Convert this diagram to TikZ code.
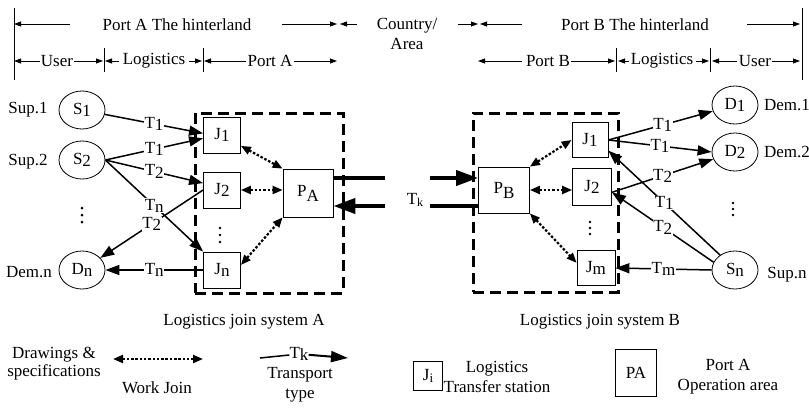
\documentclass[tikz,border=0pt]{standalone}
\usepackage{fontspec}
\setmainfont{Liberation Serif}
\usetikzlibrary{arrows.meta,shapes.geometric}
\newcommand{\lo}[1]{\raisebox{-2.5pt}{#1}}
\newcommand{\lob}[1]{\raisebox{-5pt}{#1}}
\begin{document}
\begin{tikzpicture}[x=1pt,y=-1pt,
  font=\fontsize{17}{21}\selectfont,
  circ/.style={ellipse, draw, line width=0.8pt, minimum width=46pt, minimum height=38pt, inner sep=0pt},
  jbox/.style={draw, line width=0.8pt, minimum width=37pt, minimum height=36pt, inner sep=0pt},
  pbox/.style={draw, line width=0.8pt, minimum width=50pt, minimum height=48pt, inner sep=0pt},
  dashbox/.style={draw, line width=3pt, dash pattern=on 11pt off 6pt, inner sep=0pt},
  conn/.style={line width=1.5pt, -{Triangle[length=14pt,width=10pt]}},
  plain/.style={line width=1.5pt},
  lab/.style={fill=white, inner sep=0.5pt},
  work/.style={line width=2.2pt, dash pattern=on 2.5pt off 1.8pt, {Triangle[length=10pt,width=8pt]}-{Triangle[length=10pt,width=8pt]}},
  heavy/.style={line width=4pt},
  heavyarr/.style={line width=4pt, -{Triangle[length=22pt,width=15pt]}},
  dim/.style={line width=0.8pt, -{Triangle[length=7pt,width=5pt]}},
  tick/.style={line width=0.8pt},
  txt/.style={inner sep=1pt},
  dotc/.style={fill=black}
]
\useasboundingbox (0,0) rectangle (809,408);

% ---------- top dimension rows ----------
\coordinate (VLt) at (14,8);  \coordinate (VLb) at (14,80);
\coordinate (VRt) at (802,8); \coordinate (VRb) at (802,80);
\draw[tick] (VLt) -- (VLb);
\draw[tick] (VRt) -- (VRb);

\node[txt] (hA) at (177,25) {Port A The hinterland};
\coordinate (a1s) at (70,24);  \coordinate (a1e) at (14,24);
\coordinate (a2s) at (282,24); \coordinate (a2e) at (337,24);
\coordinate (a3s) at (357,24); \coordinate (a3e) at (340,24);
\draw[dim] (a1s) -- (a1e);
\draw[dim] (a2s) -- (a2e);
\draw[dim] (a3s) -- (a3e);
\node[txt, align=center] (ctry) at (407,34) {Country/\\[-1pt]Area};
\coordinate (b1s) at (458,24); \coordinate (b1e) at (478,24);
\coordinate (b2s) at (522,24); \coordinate (b2e) at (480,24);
\coordinate (b3s) at (747,24); \coordinate (b3e) at (800,24);
\draw[dim] (b1s) -- (b1e);
\draw[dim] (b2s) -- (b2e);
\draw[dim] (b3s) -- (b3e);
\node[txt] (hB) at (635,25) {Port B The hinterland};

% row 2 left
\coordinate (t1t) at (104,48); \coordinate (t1b) at (104,72);
\coordinate (t2t) at (203,48); \coordinate (t2b) at (203,72);
\draw[tick] (t1t) -- (t1b);
\draw[tick] (t2t) -- (t2b);
\node[txt] (uA) at (57,61) {User};
\node[txt] (lA) at (154,61) {Logistics};
\node[txt] (pA) at (270,61) {Port A};
\coordinate (r1) at (14,61);  \coordinate (r2) at (103,61);
\coordinate (r3) at (105,61); \coordinate (r4) at (202,61);
\coordinate (r5) at (204,61); \coordinate (r6) at (337,61);
\coordinate (r3s) at (119,61); \coordinate (r4s) at (189,61);
\draw[dim] (uA) -- (r1);
\draw[dim] (uA) -- (r2);
\draw[dim] (r3s) -- (r3);
\draw[dim] (r4s) -- (r4);
\draw[dim] (pA) -- (r5);
\draw[dim] (pA) -- (r6);

% row 2 right
\coordinate (t3t) at (616,48); \coordinate (t3b) at (616,72);
\coordinate (t4t) at (710,48); \coordinate (t4b) at (710,72);
\draw[tick] (t3t) -- (t3b);
\draw[tick] (t4t) -- (t4b);
\node[txt] (pB) at (548,61) {Port B};
\node[txt] (lB) at (662,61) {Logistics};
\node[txt] (uB) at (755,61) {User};
\coordinate (q1s) at (522,61); \coordinate (q1) at (478,61);
\coordinate (q2) at (615,61);
\coordinate (q3s) at (629,61); \coordinate (q3) at (618,61);
\coordinate (q4s) at (696,61); \coordinate (q4) at (709,61);
\coordinate (q5s) at (737,61); \coordinate (q5) at (712,61);
\coordinate (q6) at (800,61);
\draw[dim] (q1s) -- (q1);
\draw[dim] (pB) -- (q2);
\draw[dim] (q3s) -- (q3);
\draw[dim] (q4s) -- (q4);
\draw[dim] (q5s) -- (q5);
\draw[dim] (uB) -- (q6);

% ---------- system A ----------
\node[dashbox, minimum width=148pt, minimum height=180pt] (sysA) at (269,203) {};
\node[circ] (S1) at (82,110) {S\lo{1}};
\node[circ] (S2) at (82,160) {S\lo{2}};
\node[circ] (Dn) at (82,270) {D\lo{n}};
\node[txt] (sup1) at (28,110) {Sup.1};
\node[txt] (sup2) at (28,162) {Sup.2};
\node[txt] (demn) at (29,272) {Dem.n};
\fill[dotc] (82,208) circle (1.5) (82,215) circle (1.5) (82,222) circle (1.5);

\node[jbox, fill=white] (J1A) at (222,135) {J\lo{1}};
\node[jbox, fill=white] (J2A) at (222,190) {J\lo{2}};
\node[jbox, fill=white] (JnA) at (222,270) {J\lo{n}};
\fill[dotc] (220,228) circle (1.4) (220,235) circle (1.4) (220,242) circle (1.4);
\node[pbox, fill=white] (PA) at (308,193) {P\lob{A}};

\draw[conn] (S1) -- node[lab, pos=0.5] {T\lo{1}} (J1A.175);
\draw[conn] (S2.east) -- node[lab, pos=0.5] {T\lo{1}} (J1A.190);
\draw[conn] (S2.east) -- node[lab, pos=0.5] {T\lo{2}} (J2A.160);
\draw[conn] (S2.east) -- node[lab, pos=0.5] {T\lo{n}} (JnA.north west);
\draw[conn] (J2A.west) -- node[lab, pos=0.5] {T\lo{2}} (Dn);
\draw[conn] (JnA.west) -- node[lab, pos=0.5] {T\lo{n}} (Dn.east);

\draw[work] (J1A.-30) -- (PA.north west);
\draw[work] (J2A.east) -- (J2A.east -| PA.west);
\draw[work] (JnA.15) -- (PA.south west);

% ---------- system B ----------
\node[dashbox, minimum width=145pt, minimum height=179pt] (sysB) at (545.5,202.5) {};
\node[pbox, fill=white, minimum width=51pt, minimum height=46pt] (PB) at (504,190) {P\lob{B}};
\node[jbox, fill=white, minimum width=36pt, minimum height=35pt] (J1B) at (590,140) {J\lo{1}};
\node[jbox, fill=white, minimum width=39pt, minimum height=37pt] (J2B) at (592,187) {J\lo{2}};
\node[jbox, fill=white, minimum width=38pt, minimum height=35pt] (JmB) at (596,268) {J\lo{m}};
\fill[dotc] (590,222) circle (1.4) (590,228) circle (1.4) (590,234) circle (1.4);

\node[circ] (D1) at (735,105) {D\lo{1}};
\node[circ] (D2) at (735,152) {D\lo{2}};
\node[circ] (Sn) at (735,270) {S\lo{n}};
\node[txt] (dem1) at (787,105) {Dem.1};
\node[txt] (dem2) at (787,152) {Dem.2};
\node[txt] (supn) at (787,275) {Sup.n};
\fill[dotc] (733,203) circle (1.4) (733,209) circle (1.4) (733,215) circle (1.4);

\draw[conn] (J1B.east) -- node[lab, pos=0.52] {T\lo{1}} (D1);
\draw[conn] (J1B.east) -- node[lab, pos=0.5] {T\lo{1}} (D2.west);
\draw[conn] (J2B.-15) -- node[lab, pos=0.5] {T\lo{2}} (D2);
\draw[conn] (Sn.135) -- node[lab, pos=0.5] {T\lo{1}} (J1B.-30);
\draw[conn] (Sn.160) -- node[lab, pos=0.5] {T\lo{2}} (J2B.-15);
\draw[conn] (Sn.west) -- node[lab, pos=0.5] {T\lo{m}} (JmB.east);

\draw[work] (PB.north east) -- (J1B.west);
\draw[work] (PB.east) -- (PB.east -| J2B.west);
\draw[work] (PB.south east) -- (JmB.165);

% ---------- transport between ports ----------
\node[txt] (Tk) at (415,200) {T\lo{\fontsize{12}{12}\selectfont k}};
\coordinate (ua) at (385,178); \coordinate (ub) at (430,178);
\coordinate (la) at (385,206); \coordinate (lb) at (430,206);
\draw[heavy] (PA.east |- ua) -- (ua);
\draw[heavyarr] (ub) -- (PB.west |- ub);
\draw[heavy] (PB.west |- lb) -- (lb);
\draw[heavyarr] (la) -- (PA.east |- la);

% ---------- captions ----------
\node[txt] (capA) at (244,322) {Logistics join system A};
\node[txt] (capB) at (600,322) {Logistics join system B};

% ---------- legend ----------
\node[txt, align=center] (draw) at (54,364) {Drawings \&\\[-3pt]specifications};
\coordinate (w1) at (113,359); \coordinate (w2) at (203,359);
\draw[work] (w1) -- (w2);
\node[txt] (wj) at (157,388) {Work Join};

\node[txt, inner sep=0pt] (tkl) at (299,354) {T\lo{k}};
\coordinate (k1) at (260,358); \coordinate (k2) at (348,358);
\draw[plain] (k1) -- (tkl);
\draw[line width=2pt, -{Triangle[length=17pt,width=11pt]}] (tkl) -- (k2);
\node[txt, align=center] (tt) at (300,385) {Transport\\[-1pt]type};

\node[jbox, minimum width=29pt, minimum height=29pt] (Ji) at (428,376) {J\lo{\fontsize{13}{13}\selectfont i}};
\node[txt, align=center] (ltl) at (497,377) {Logistics\\[-1pt]Transfer station};
\node[pbox, minimum width=41pt, minimum height=47pt] (PAl) at (636,373) {PA};
\node[txt, align=center] (poa) at (728,377) {Port A\\[-1pt]Operation area};
\end{tikzpicture}
\end{document}
